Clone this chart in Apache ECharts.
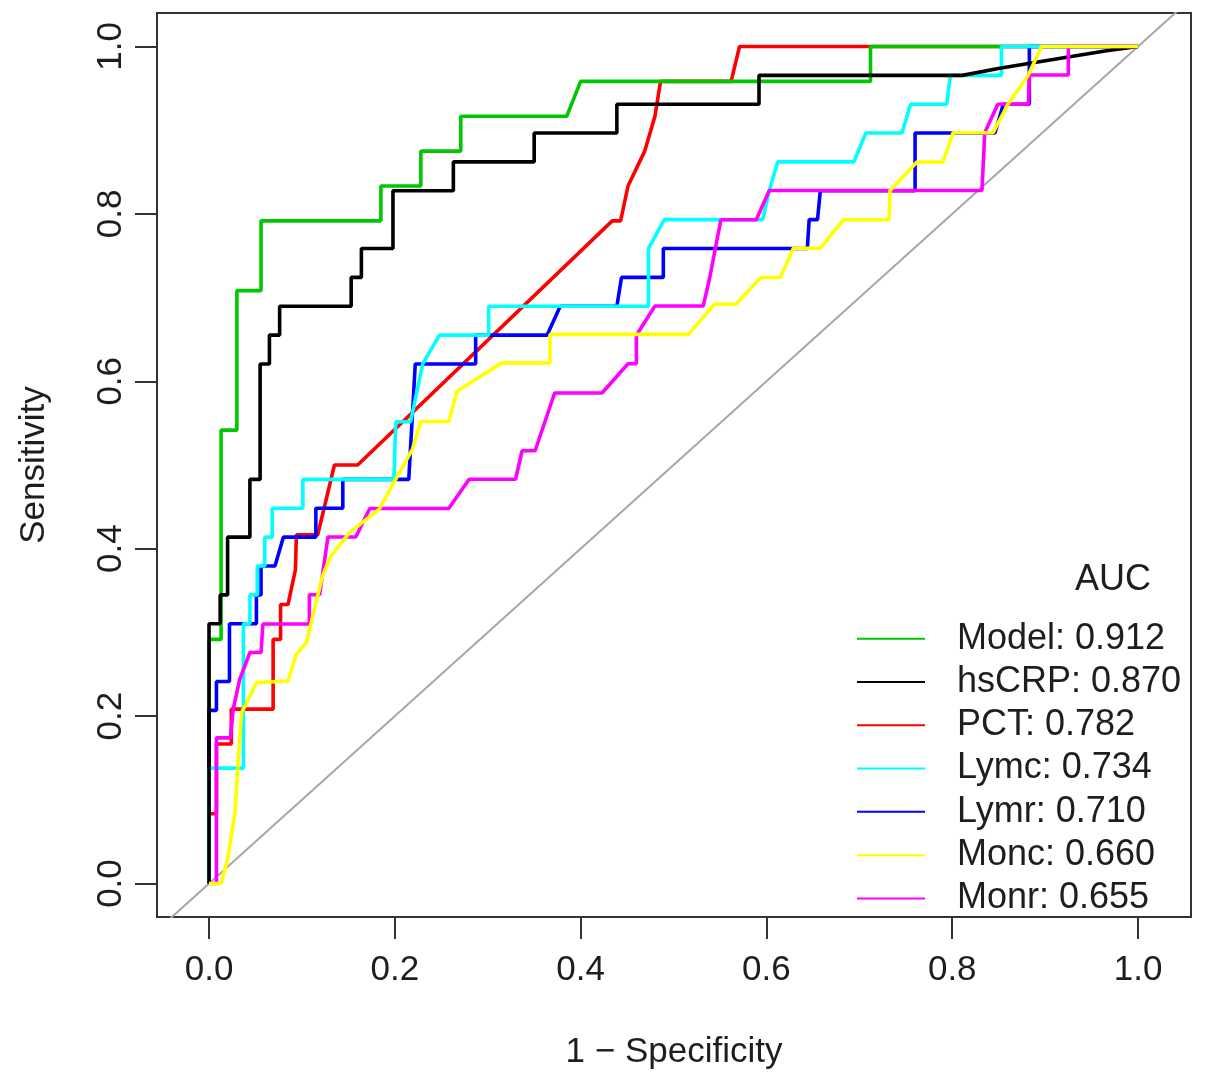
<!DOCTYPE html>
<html>
<head>
<meta charset="utf-8">
<title>ROC</title>
<script src="https://cdn.jsdelivr.net/npm/echarts@6.0.0/dist/echarts.min.js"></script>
<style>
	html, body { margin: 0; padding: 0; background: #fff; }
	#chart { width: 1205px; height: 1082px; }
</style>
</head>
<body>
<div id="chart"></div>
<script>
// 曲线名称 / AUC / 颜色 / 叠放顺序
var names = ['Model', 'hsCRP', 'PCT', 'Lymc', 'Lymr', 'Monc', 'Monr'];
var aucs = ['0.912', '0.870', '0.782', '0.734', '0.710', '0.660', '0.655'];
var colors = ['#00c800', '#000000', '#ff0000', '#00ffff', '#0000ff', '#ffff00', '#ff00ff'];
var layers = [3, 6, 2, 5, 4, 8, 7];
var tickValues = [0, 0.2, 0.4, 0.6, 0.8, 1.0];

// [1 - specificity, sensitivity]
var modelPts = [[0,0],[0,0.2917],[0.013,0.2917],[0.013,0.5417],[0.030,0.5417],[0.030,0.7083],[0.056,0.7083],[0.056,0.7917],[0.185,0.7917],[0.185,0.8333],[0.228,0.8333],[0.228,0.875],[0.271,0.875],[0.271,0.9167],[0.385,0.9167],[0.400,0.9583],[0.712,0.9583],[0.712,1],[1,1]];
var hscrpPts = [[0,0],[0,0.3103],[0.012,0.3103],[0.012,0.3448],[0.020,0.3448],[0.020,0.4138],[0.044,0.4138],[0.044,0.4828],[0.055,0.4828],[0.055,0.6207],[0.065,0.6207],[0.065,0.6552],[0.076,0.6552],[0.076,0.6897],[0.153,0.6897],[0.153,0.7241],[0.164,0.7241],[0.164,0.7586],[0.198,0.7586],[0.198,0.8276],[0.263,0.8276],[0.263,0.8621],[0.350,0.8621],[0.350,0.8966],[0.439,0.8966],[0.439,0.9310],[0.592,0.9310],[0.592,0.9655],[0.811,0.9655],[0.851,0.974],[0.966,0.995],[1,1]];
var pctPts = [[0,0],[0,0.0833],[0.008,0.0833],[0.008,0.1667],[0.024,0.1667],[0.024,0.2083],[0.069,0.2083],[0.069,0.2917],[0.077,0.2917],[0.077,0.3333],[0.085,0.3333],[0.093,0.375],[0.094,0.4167],[0.117,0.4167],[0.135,0.5],[0.160,0.5],[0.434,0.7917],[0.443,0.7917],[0.451,0.8333],[0.469,0.875],[0.480,0.9167],[0.486,0.9583],[0.562,0.9583],[0.571,1],[1,1]];
var lymcPts = [[0,0],[0,0.1379],[0.037,0.1379],[0.037,0.3103],[0.044,0.3103],[0.044,0.3448],[0.052,0.3448],[0.052,0.3793],[0.060,0.3793],[0.060,0.4138],[0.068,0.4138],[0.068,0.4483],[0.101,0.4483],[0.101,0.4828],[0.199,0.4828],[0.201,0.5517],[0.217,0.5517],[0.230,0.6207],[0.248,0.6552],[0.301,0.6552],[0.301,0.6897],[0.473,0.6897],[0.473,0.7586],[0.490,0.7931],[0.596,0.7931],[0.603,0.8276],[0.612,0.8621],[0.694,0.8621],[0.707,0.8966],[0.746,0.8966],[0.755,0.9310],[0.794,0.9310],[0.798,0.9655],[0.853,0.9655],[0.853,1],[1,1]];
var lymrPts = [[0,0],[0,0.2069],[0.008,0.2069],[0.008,0.2414],[0.022,0.2414],[0.022,0.3103],[0.051,0.3103],[0.051,0.3448],[0.056,0.3448],[0.056,0.3793],[0.071,0.3793],[0.080,0.4138],[0.115,0.4138],[0.115,0.4483],[0.144,0.4483],[0.144,0.4828],[0.215,0.4828],[0.222,0.6207],[0.287,0.6207],[0.287,0.6552],[0.364,0.6552],[0.378,0.6897],[0.439,0.6897],[0.444,0.7241],[0.489,0.7241],[0.489,0.7586],[0.644,0.7586],[0.646,0.7931],[0.655,0.7931],[0.658,0.8276],[0.760,0.8276],[0.760,0.8966],[0.846,0.8966],[0.855,0.9310],[0.883,0.9310],[0.883,1],[1,1]];
var moncPts = [[0,0],[0.013,0],[0.020,0.029],[0.028,0.085],[0.031,0.141],[0.035,0.204],[0.051,0.240],[0.085,0.242],[0.094,0.274],[0.105,0.288],[0.108,0.303],[0.115,0.335],[0.122,0.367],[0.131,0.391],[0.151,0.419],[0.183,0.447],[0.219,0.519],[0.228,0.552],[0.258,0.552],[0.267,0.588],[0.315,0.622],[0.367,0.622],[0.367,0.656],[0.516,0.656],[0.544,0.692],[0.567,0.692],[0.594,0.724],[0.615,0.724],[0.629,0.759],[0.658,0.759],[0.683,0.793],[0.732,0.793],[0.733,0.828],[0.762,0.862],[0.790,0.862],[0.801,0.897],[0.844,0.897],[0.860,0.931],[0.882,0.966],[0.896,1],[1,1]];
var monrPts = [[0,0],[0.008,0],[0.008,0.174],[0.023,0.174],[0.026,0.208],[0.033,0.244],[0.044,0.276],[0.056,0.276],[0.058,0.310],[0.108,0.310],[0.108,0.345],[0.119,0.345],[0.128,0.414],[0.158,0.414],[0.173,0.448],[0.258,0.448],[0.280,0.483],[0.330,0.483],[0.337,0.517],[0.351,0.517],[0.372,0.586],[0.423,0.586],[0.451,0.621],[0.460,0.621],[0.460,0.655],[0.480,0.690],[0.532,0.690],[0.539,0.724],[0.551,0.793],[0.589,0.793],[0.603,0.828],[0.832,0.828],[0.835,0.897],[0.849,0.931],[0.882,0.931],[0.883,0.966],[0.925,0.966],[0.925,1],[1,1]];
var diagPts = [[-0.2,-0.2],[1.2,1.2]];

var curves = [modelPts, hscrpPts, pctPts, lymcPts, lymrPts, moncPts, monrPts];

var FONT = 'Liberation Sans, Arial, Helvetica, sans-serif';
var TXT = '#1e1e1e';

/**
 * 坐标轴公共配置
 */
function axisCfg(name, min, max, isY) {
	return {
		type: 'value',
		min: min,
		max: max,
		name: name,
		nameLocation: 'middle',
		nameGap: isY ? 105 : 118,
		nameTextStyle: { fontSize: 35, fontFamily: FONT, color: TXT },
		axisLine: { show: false, onZero: false },
		splitLine: { show: false },
		axisTick: {
			show: true,
			inside: false,
			length: 22,
			customValues: tickValues,
			lineStyle: { color: '#333', width: 2 }
		},
		axisLabel: {
			customValues: tickValues,
			fontSize: 35,
			fontFamily: FONT,
			color: TXT,
			margin: isY ? 28 : 36,
			rotate: isY ? 90 : 0,
			formatter: function(v) {
				return v.toFixed(1);
			}
		}
	};
}

var series = [{
	type: 'line',
	data: diagPts,
	symbol: 'none',
	silent: true,
	clip: true,
	z: 1,
	lineStyle: { color: '#a6a6a6', width: 2 }
}];
var legendNames = [];
for (var i = 0; i < names.length; i++) {
	var label = names[i] + ': ' + aucs[i];
	legendNames.push(label);
	series.push({
		name: label,
		type: 'line',
		data: curves[i],
		symbol: 'none',
		clip: true,
		z: layers[i],
		color: colors[i],
		lineStyle: { color: colors[i], width: 3.6 }
	});
}

var chart = echarts.init(document.getElementById('chart'), null, { renderer: 'canvas' });
chart.setOption({
	animation: false,
	backgroundColor: '#fff',
	title: {
		text: 'AUC',
		left: 1075,
		top: 562,
		padding: 0,
		textStyle: { fontSize: 36, fontWeight: 'normal', fontFamily: FONT, color: TXT }
	},
	grid: {
		left: 157,
		right: 14,
		top: 13,
		bottom: 165,
		show: true,
		borderColor: '#333',
		borderWidth: 2,
		containLabel: false
	},
	legend: {
		data: legendNames,
		orient: 'vertical',
		left: 857,
		top: 617,
		padding: 0,
		icon: 'rect',
		itemWidth: 68,
		itemHeight: 2,
		itemGap: 0,
		selectedMode: false,
		textStyle: {
			fontSize: 36,
			fontFamily: FONT,
			color: TXT,
			lineHeight: 43.3,
			padding: [0, 0, 0, 27]
		}
	},
	xAxis: axisCfg('1 \u2212 Specificity', -0.056, 1.057, false),
	yAxis: axisCfg('Sensitivity', -0.04, 1.04, true),
	series: series
});
</script>
</body>
</html>
